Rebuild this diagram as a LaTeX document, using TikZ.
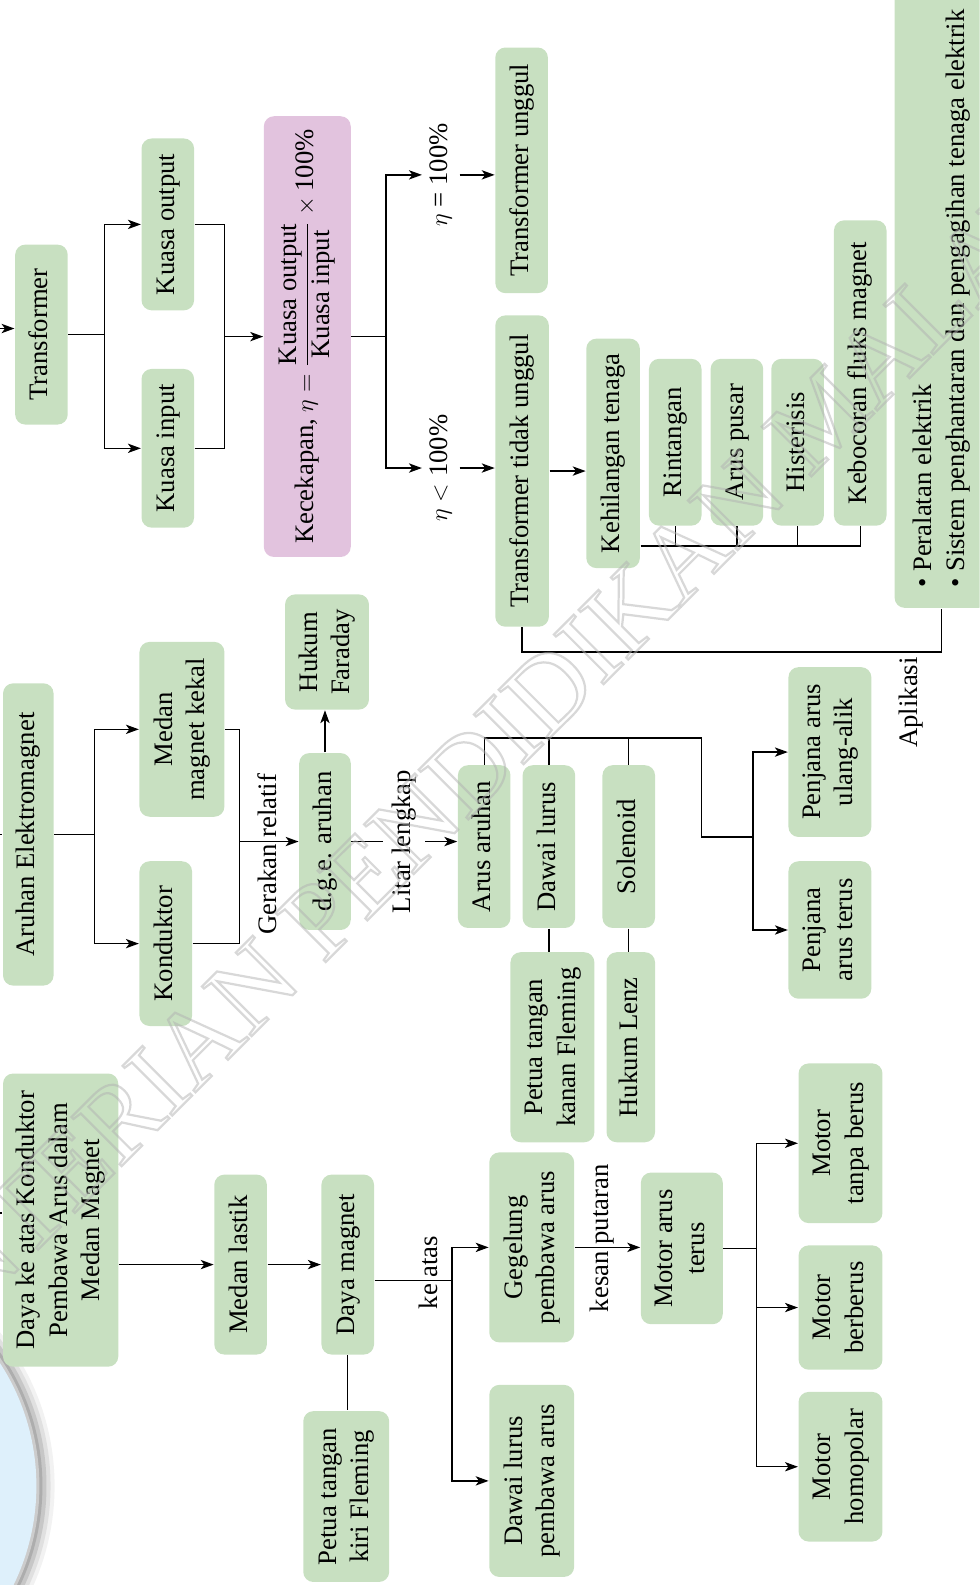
\documentclass[tikz,border=0pt]{standalone}
\usepackage{fontspec}
\setmainfont{Liberation Serif}
\usetikzlibrary{arrows.meta}
\definecolor{boxgreen}{RGB}{200,224,193}
\definecolor{boxpink}{RGB}{226,195,222}
\definecolor{circblue}{RGB}{222,240,251}
\newcommand{\rt}[1]{\rotatebox{90}{\begin{tabular}{@{}c@{}}#1\end{tabular}}}
\newcommand{\rl}[1]{\rotatebox{90}{#1}}
\begin{document}
\begin{tikzpicture}[x=0.5pt,y=-0.5pt,line width=0.65pt,
  box/.style 2 args={fill=boxgreen, rounded corners=5pt, inner sep=0pt,
    minimum width=#1*0.5pt, minimum height=#2*0.5pt,
    font=\fontsize{13.2}{16}\selectfont},
  pbox/.style 2 args={box={#1}{#2}, fill=boxpink},
  lab/.style={inner sep=0pt, font=\fontsize{13.2}{16}\selectfont},
  arr/.style={-{Stealth[length=6.4pt,width=4.6pt,inset=1.7pt]}}]
\useasboundingbox (0,0) rectangle (969,1568);
\clip (0,0) rectangle (969,1568);

% circle at bottom-left
\fill[black!5] (-187,1470) circle[radius=241];
\fill[black!12] (-187,1470) circle[radius=237];
\fill[black!22] (-187,1470) circle[radius=233];
\fill[black!32] (-187,1470) circle[radius=229];
\fill[black!20] (-187,1470) circle[radius=226];
\fill[circblue] (-187,1470) circle[radius=223];

% ---------- top section ----------
\node[box={52}{178}] (trans) at (41,331) {\rt{Transformer}};
\node[box={52}{170}] (kout) at (166,222) {\rt{Kuasa output}};
\node[box={52}{157}] (kin) at (166,443.5) {\rt{Kuasa input}};
\node[pbox={86}{436}] (eff) at (304,333) {\rl{Kecekapan, $\displaystyle\eta = \frac{\mbox{Kuasa output}}{\mbox{Kuasa input}}\times\mbox{100\%}$}};
\node[box={52}{243}] (tu) at (516,168.5) {\rt{Transformer unggul}};
\node[box={53}{308}] (ttu) at (516.5,466) {\rt{Transformer tidak unggul}};
\node[box={53}{227}] (kt) at (606.5,448.5) {\rt{Kehilangan tenaga}};
\node[box={52}{165}] (rin) at (668,437.5) {\rt{Rintangan}};
\node[box={52}{165}] (ap) at (729,437.5) {\rt{Arus pusar}};
\node[box={52}{165}] (his) at (789,437.5) {\rt{Histerisis}};
\node[box={52}{302}] (keb) at (851,369) {\rt{Kebocoran fluks magnet}};
\node[box={93}{640}, anchor=south] (app) at (931.5,602) {\rotatebox{90}{\begin{tabular}{@{}l@{}}\textbullet\ Peralatan elektrik\\\textbullet\ Sistem penghantaran dan pengagihan tenaga elektrik\end{tabular}\hspace{14pt}}};

\node[lab, minimum width=36*0.5pt] (eta1) at (436,173) {\rl{$\eta$ = 100\%}};
\node[lab, minimum width=36*0.5pt] (eta2) at (436,463) {\rl{$\eta < \mbox{100\%}$}};
\node[lab] (apl) at (901,695) {\rl{Aplikasi}};

\coordinate (inT) at (0,325);
\draw[arr] (inT) -- (inT -| trans.west);
\draw (trans.east) -- ++(36,0) coordinate (b1);
\draw[arr] (b1) |- (kout.west);
\draw[arr] (b1) |- (kin.west);
\coordinate (b2) at (222,333);
\draw (kout.east) -| (b2);
\draw (kin.east) -| (b2);
\draw[arr] (b2) -- (b2 -| eff.west);
\coordinate (b3) at (382,333);
\draw (eff.east |- b3) -- (b3);
\draw[arr] (b3) |- (eta1.west);
\draw[arr] (b3) |- (eta2.west);
\draw[arr] (eta1.east) -- (eta1.east -| tu.west);
\draw[arr] (eta2.east) -- (eta2.east -| ttu.west);
\draw[arr] (ttu.east) -- (ttu.east -| kt.west);
\coordinate (lossbar) at (0,540);
\draw (kt.east |- lossbar) -- (keb.south |- lossbar) -- (keb.south);
\draw (rin.south) -- (rin.south |- lossbar);
\draw (ap.south) -- (ap.south |- lossbar);
\draw (his.south) -- (his.south |- lossbar);
\coordinate (aplbar) at (0,645);
\draw (ttu.south) -- (ttu.south |- aplbar) -| (app.south);

% ---------- middle section ----------
\node[box={50}{299}] (aem) at (28,825.5) {\rt{Aruhan Elektromagnet}};
\node[box={84}{173}] (mmk) at (180,721.5) {\rt{Medan\\magnet kekal}};
\node[box={52}{163}] (kon) at (164,933.5) {\rt{Konduktor}};
\node[box={51}{175}] (dge) at (321.5,832.5) {\rt{d.g.e. aruhan}};
\node[box={83}{114}] (hf) at (323.5,645) {\rt{Hukum\\Faraday}};
\node[box={52}{161}] (aa) at (479,837.5) {\rt{Arus aruhan}};
\node[box={52}{161}] (dl) at (543,837.5) {\rt{Dawai lurus}};
\node[box={52}{161}] (sol) at (622,837.5) {\rt{Solenoid}};
\node[box={83}{188}] (pkf) at (546.5,1036) {\rt{Petua tangan\\kanan Fleming}};
\node[box={48}{188}] (hl) at (624,1036) {\rt{Hukum Lenz}};
\node[box={82}{168}] (pua) at (821,744) {\rt{Penjana arus\\ulang-alik}};
\node[box={82}{136}] (pat) at (821,920) {\rt{Penjana\\arus terus}};

\node[lab] (grel) at (264,845) {\rl{Gerakan relatif}};
\node[lab, minimum width=40*0.5pt] (lit) at (400,832.5) {\rl{Litar lengkap}};

\coordinate (inA) at (0,825.5);
\draw (inA) -- (aem.west);
\draw (aem.east) -- ++(40,0) coordinate (b4);
\draw[arr] (b4) |- (mmk.west);
\draw[arr] (b4) |- (kon.west);
\coordinate (b5) at (237,832.5);
\draw (mmk.east) -| (b5);
\draw (kon.east) -| (b5);
\draw[arr] (b5) -- (b5 -| dge.west);
\draw[arr] (dge.north) -- (dge.north |- hf.south);
\draw (dge.east) -- (lit.west);
\draw[arr] (lit.east) -- (lit.east -| aa.west);
\coordinate (tb) at (0,730);
\coordinate (tbr) at (694,730);
\coordinate (b6) at (745,828);
\draw (aa.north) |- (tbr) |- (b6);
\draw (dl.north) -- (dl.north |- tb);
\draw (sol.north) -- (sol.north |- tb);
\draw[arr] (b6) |- (pua.west);
\draw[arr] (b6) |- (pat.west);
\draw (dl.south) -- (dl.south |- pkf.north);
\draw (sol.south) -- (sol.south |- hl.north);

% ---------- bottom section ----------
\node[box={114}{290}] (dya) at (60,1207) {\rt{Daya ke atas Konduktor\\Pembawa Arus dalam\\Medan Magnet}};
\node[box={52}{178}] (ml) at (238,1251) {\rt{Medan lastik}};
\node[box={52}{178}] (dm) at (344,1251) {\rt{Daya magnet}};
\node[box={85}{169}] (pkif) at (342.5,1480.5) {\rt{Petua tangan\\kiri Fleming}};
\node[box={84}{188}] (gpa) at (526,1234) {\rt{Gegelung\\pembawa arus}};
\node[box={84}{190}] (dlpa) at (526,1465) {\rt{Dawai lurus\\pembawa arus}};
\node[box={81}{150}] (mat) at (674.5,1235) {\rt{Motor arus\\terus}};
\node[box={83}{158}] (mtb) at (831.5,1131) {\rt{Motor\\tanpa berus}};
\node[box={83}{123}] (mbb) at (831.5,1293.5) {\rt{Motor\\berberus}};
\node[box={83}{148}] (mhp) at (831.5,1451) {\rt{Motor\\homopolar}};

\node[lab] (katas) at (424,1259) {\rl{ke atas}};
\node[lab] (kput) at (596,1225) {\rl{kesan putaran}};

\coordinate (inD) at (0,1200);
\draw (inD) -- (inD -| dya.west);
\draw[arr] (ml.west -| dya.east) -- (ml.west);
\draw[arr] (ml.east) -- (dm.west);
\draw (dm.south) -- (dm.south |- pkif.north);
\coordinate (b7) at (447,1267);
\draw (b7 -| dm.east) -- (b7);
\draw[arr] (b7) |- (gpa.west);
\draw[arr] (b7) |- (dlpa.west);
\draw[arr] (gpa.east) -- (gpa.east -| mat.west);
\draw (mat.east) -- ++(33,0) coordinate (b8);
\draw[arr] (b8) |- (mtb.west);
\draw[arr] (b8) |- (mbb.west);
\draw[arr] (b8) |- (mhp.west);

% ---------- watermark ----------
\node[rotate=45, text=black!30, opacity=0.5, inner sep=0pt,
  font=\fontsize{53}{53}\selectfont] (wm) at (450,775)
  {\special{pdf:literal direct 1 Tr 1.1 w}KEMENTERIAN PENDIDIKAN MALAYSIA\special{pdf:literal direct 0 Tr}};
\end{tikzpicture}
\end{document}
